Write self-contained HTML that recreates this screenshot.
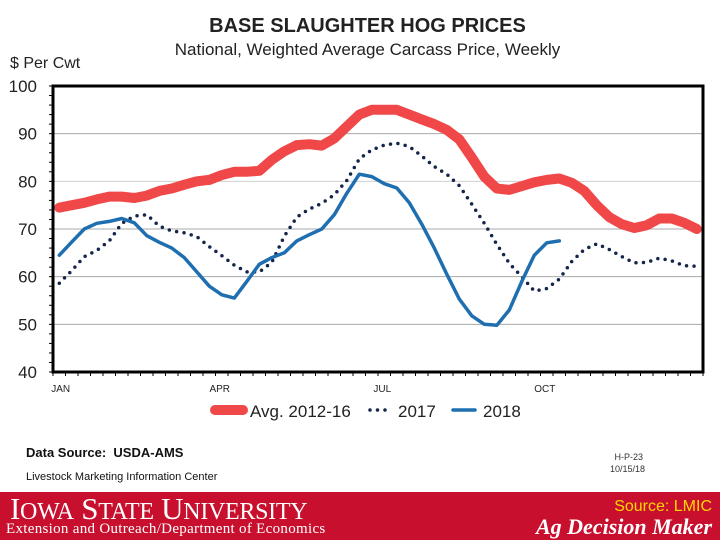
<!DOCTYPE html>
<html><head><meta charset="utf-8"><style>
body{margin:0;width:720px;height:540px;background:#fff;overflow:hidden;font-family:"Liberation Sans",sans-serif;position:relative}
.t{position:absolute;white-space:nowrap}
</style></head><body>
<div class="t" style="left:0;width:735px;text-align:center;top:15px;font-weight:bold;font-size:20px;color:#222">BASE SLAUGHTER HOG PRICES</div>
<div class="t" style="left:0;width:735px;text-align:center;top:40px;font-size:17px;color:#222">National, Weighted Average Carcass Price, Weekly</div>
<div class="t" style="left:10px;top:55px;font-size:16px;color:#222">$ Per Cwt</div>
<svg id="chart" width="720" height="440" style="position:absolute;left:0;top:0"></svg>
<div class="t" style="left:26px;top:445px;font-size:13px;font-weight:bold;color:#111">Data Source:&nbsp; USDA-AMS</div>
<div class="t" style="left:26px;top:471px;font-size:11px;color:#111">Livestock Marketing Information Center</div>
<div class="t" style="left:610px;top:451px;font-size:9px;color:#333;text-align:center;line-height:12px">&nbsp;H-P-23<br>10/15/18</div>
<div style="position:absolute;left:0;top:492px;width:720px;height:48px;background:#c8102e">
<div class="t" style="left:10px;top:-1px;font-family:'Liberation Serif',serif;font-size:31px;color:#fff;letter-spacing:-0.3px">I<span style="font-size:24px">OWA</span> S<span style="font-size:24px">TATE</span> U<span style="font-size:24px">NIVERSITY</span></div>
<div class="t" style="left:6px;top:29px;font-family:'Liberation Serif',serif;font-size:15px;color:#fff;letter-spacing:0.3px">Extension and Outreach/Department of Economics</div>
<div class="t" style="right:8px;top:6px;font-size:16px;color:#ffd700">Source: LMIC</div>
<div class="t" style="right:8px;top:22px;font-family:'Liberation Serif',serif;font-size:22px;font-weight:bold;font-style:italic;color:#fff">Ag Decision Maker</div>
</div>
<script>
const avg=[74.5,75,75.5,76.2,76.8,76.8,76.5,77,78,78.5,79.3,80,80.3,81.3,82,82,82.2,84.5,86.3,87.6,87.8,87.5,89,91.5,94,95,95,95,94,93,92,90.8,88.8,85,81,78.5,78.2,79,79.8,80.3,80.6,79.7,78,75,72.5,71,70.2,70.8,72.2,72.2,71.3,70];
const y2017=[58.6,61.3,64.2,65.5,67.5,71.2,72.7,73,70.6,69.6,69.2,68.4,66.3,64.4,62.4,61,61,63,68.5,72.5,74.2,75.4,77.2,80.2,84.7,86.6,87.6,88,87.3,85.3,83.1,81.5,79.1,75.2,71.2,66.8,62.8,60,57,57.5,59.5,63.2,65.7,66.9,65.7,64.2,62.9,63,63.9,63.3,62.3,62.2];
const y2018=[64.5,67.3,70,71.2,71.6,72.2,71.3,68.6,67.2,66,64,61,58,56.2,55.5,59,62.6,64,65,67.5,68.8,70,73,77.5,81.5,81,79.5,78.6,75.5,71,66,60.5,55.3,51.8,50,49.8,53,59,64.5,67.1,67.5];
const yTicks=[40,50,60,70,80,90,100];
const months=["JAN","APR","JUL","OCT"];
const monthWeeks=[0,13,26,39];
const NS="http://www.w3.org/2000/svg",svg=document.getElementById('chart');
const L=53,R=703,T=86,B=372,ymin=40,ymax=100,N=52;
const xs=i=>L+(R-L)/N*(i+0.5);
const ys=v=>B-(v-ymin)/(ymax-ymin)*(B-T);
function mk(t,a){const e=document.createElementNS(NS,t);for(const k in a)e.setAttribute(k,a[k]);svg.appendChild(e);return e;}
yTicks.forEach(v=>{
 if(v>ymin&&v<ymax){const g=mk('line',{x1:L,x2:R,y1:ys(v),y2:ys(v),stroke:v===80?'#d0d0d0':'#aaa','stroke-width':1});
 
 }
 const t=mk('text',{x:37,y:ys(v)+6,'text-anchor':'end','font-size':17,fill:'#222','font-family':'Liberation Sans, sans-serif'});t.textContent=v;
 
 
});
for(let v=ymin;v<=ymax;v+=2){const l=mk('line',{x1:L-4,x2:L,y1:ys(v),y2:ys(v),stroke:'#000','stroke-width':1});
 
 }
for(let i=0;i<=N;i++){const x=L+(R-L)/N*i;const l=mk('line',{x1:x,x2:x,y1:B,y2:B+4,stroke:'#000','stroke-width':1});
 
 }
months.forEach((m,k)=>{const t=mk('text',{x:xs(monthWeeks[k])-8+(k?6:0),y:392,'text-anchor':k?'middle':'start','font-size':10,fill:'#222','font-family':'Liberation Sans, sans-serif'});t.textContent=m;
 
 });
function line(arr,style,name){const d=arr.map((v,i)=>(i?'L':'M')+xs(i).toFixed(1)+','+ys(v).toFixed(1)).join('');
 const p=mk('path',Object.assign({d:d,fill:'none','stroke-linejoin':'round','stroke-linecap':'round'},style));
 
 }
line(avg,{stroke:'#f04848','stroke-width':10},'series-avg-2012-16');
line(y2017,{stroke:'#14244a','stroke-width':3.5,'stroke-dasharray':'0 7.5'},'series-2017');
line(y2018,{stroke:'#1f6fb0','stroke-width':3.5},'series-2018');
const fr=mk('rect',{x:L,y:T,width:R-L,height:B-T,fill:'none',stroke:'#000','stroke-width':3});


const lg=[["Avg. 2012-16",{stroke:'#f04848','stroke-width':10},215,250],["2017",{stroke:'#14244a','stroke-width':3.5,'stroke-dasharray':'0 7.5'},370,398],["2018",{stroke:'#1f6fb0','stroke-width':3.5},453,483]];
lg.forEach(e=>{const l=mk('line',Object.assign({x1:e[2],x2:e[2]+(e[0]==="Avg. 2012-16"?28:22),y1:410,y2:410,'stroke-linecap':'round'},e[1]));
 
 
 const t=mk('text',{x:e[3],y:417,'font-size':17,fill:'#222','font-family':'Liberation Sans, sans-serif'});t.textContent=e[0];
 
 });
</script>
</body></html>
